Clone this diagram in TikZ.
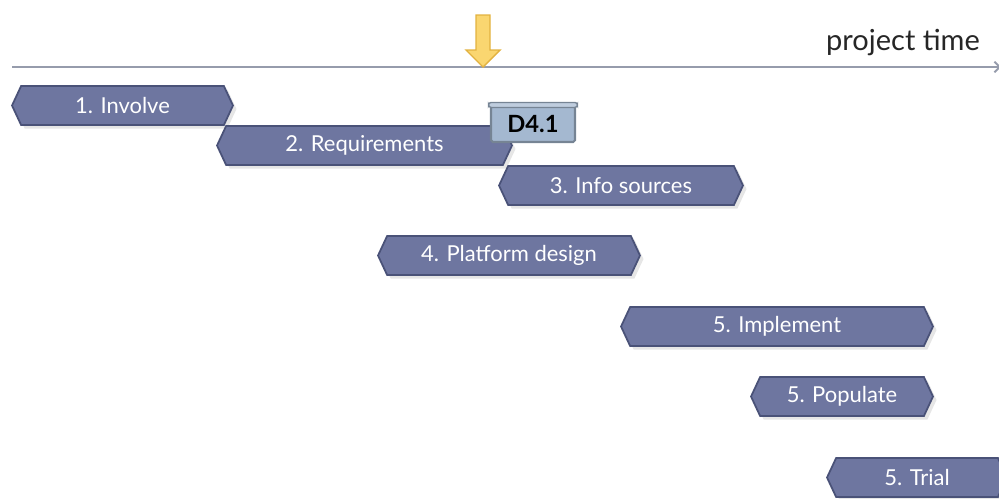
\documentclass[tikz,border=0pt]{standalone}
\usepackage{fontspec}
\setmainfont{Lato}
\usetikzlibrary{shapes.symbols,shadows,arrows.meta}
\definecolor{barfill}{RGB}{110,118,160}
\definecolor{bardraw}{RGB}{74,82,120}
\definecolor{delivfill}{RGB}{164,184,208}
\definecolor{delivdraw}{RGB}{118,132,148}
\definecolor{markfill}{RGB}{250,214,112}
\definecolor{markdraw}{RGB}{226,178,64}
\definecolor{axisgray}{RGB}{150,156,172}
\begin{document}
\begin{tikzpicture}[
				x=0.02cm, y=-0.02cm,
				task/.style={signal, signal to=west and east, signal pointer angle=130,
					draw=bardraw, line width=1pt, fill=barfill, text=white,
					font=\fontsize{12.5}{14}\selectfont, minimum height=0.78cm, minimum width=#1,
					inner sep=0pt, drop shadow={opacity=0.2, shadow xshift=2pt, shadow yshift=-2pt}},
				deliv/.style={rectangle, rounded corners=1pt, draw=delivdraw, line width=1.2pt,
					fill=delivfill, font=\bfseries\fontsize{13.5}{15}\selectfont,
					minimum width=1.68cm, minimum height=0.72cm, inner sep=0pt},
				lid/.style={rectangle, rounded corners=1.5pt, draw=delivdraw, line width=0.8pt,
					fill=delivfill!70!white, minimum width=1.78cm, minimum height=0.1cm, inner sep=0pt},
				timeline/.style={draw=axisgray, line width=1.1pt, -{Straight Barb[length=3pt]}},
				marker/.style={draw=markdraw, line width=0.8pt, fill=markfill}
			]
			\clip (0,0) rectangle (999,498);
			\useasboundingbox (0,0) rectangle (999,498);
			% time axis
			\coordinate (tstart) at (12,67);
			\coordinate (tend) at (1001,67);
			\draw[timeline] (tstart) -- (tend);
			\node[font=\fontsize{16.5}{18}\selectfont, text=black!85] (ptime) at (903,43) {project time};
			\draw[marker] (476,15) -- (490,15) -- (490,50) -- (500,50) -- (483,67)
				-- (466,50) -- (476,50) -- cycle;
			% work packages
			\node[task=4.42cm] (involve) at (122.5,105.5) {1. Involve};
			\node[task=5.9cm] (requirements) at (364.5,145.5) {2. Requirements};
			\node[task=4.88cm] (sources) at (621,185.5) {3. Info sources};
			\node[task=5.24cm] (platform) at (509,255.5) {4. Platform design};
			\node[task=6.24cm] (implement) at (777,326.5) {5. Implement};
			\node[task=3.64cm] (populate) at (842,396.5) {5. Populate};
			\node[task=3.6cm] (trial) at (917,477.5) {5. Trial};
			% deliverable
			\node[deliv] (d41) at (533,124) {D4.1};
			\node[lid] (d41lid) at (d41.north) {};
		\end{tikzpicture}
\end{document}
